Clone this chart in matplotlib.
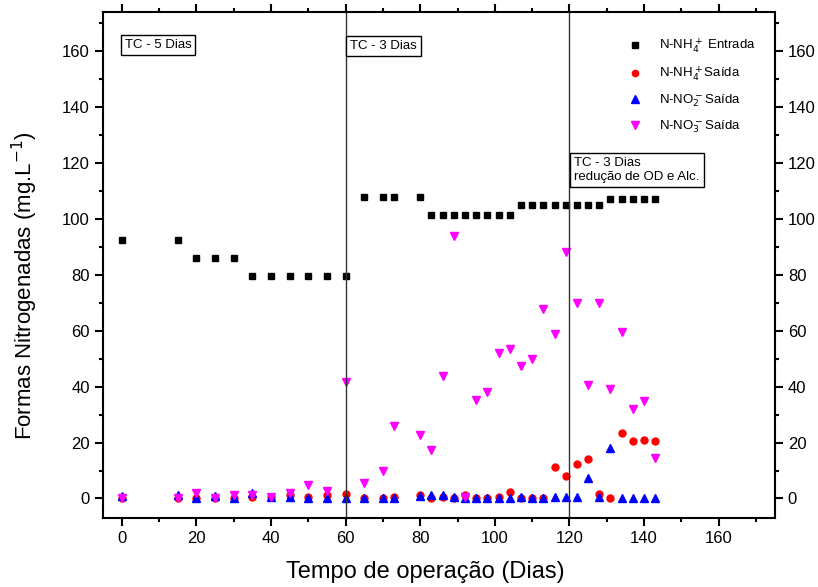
import matplotlib.pyplot as plt
from matplotlib.ticker import MultipleLocator

plt.rcParams["font.family"] = ["Liberation Sans", "DejaVu Sans"]

# operation days (all series sampled on the same days)
days = [0, 15, 20, 25, 30, 35, 40, 45, 50, 55, 60, 65, 70, 73, 80, 83, 86, 89,
        92, 95, 98, 101, 104, 107, 110, 113, 116, 119, 122, 125, 128, 131,
        134, 137, 140, 143]

nh4_in = [92.5, 92.5, 86, 86, 86, 79.5, 79.5, 79.5, 79.5, 79.5, 79.5, 108,
          108, 108, 108, 101.5, 101.5, 101.5, 101.5, 101.5, 101.5, 101.5,
          101.5, 105, 105, 105, 105, 105, 105, 105, 105, 107.2, 107.2, 107.2,
          107.2, 107.2]

nh4_out = [0, 0, 0, 0, 0, 0.7, 0.4, 1.4, 0.5, 1.1, 1.5, 0.2, 0, 0.7, 1.2, 0,
           0.5, 0, 1.4, 0.2, 0.2, 0.5, 2.3, 0.2, 0.2, 0.2, 11.2, 7.9, 12.4,
           14.2, 1.7, 0.1, 23.4, 20.5, 20.9, 20.4]

no2_out = [1.0, 1.4, 0.3, 0.8, 0.2, 1.9, 0.7, 0.6, 0, 0, 0, 0, 0.2, 0.3, 0.9,
           1.4, 1.1, 0.7, 0.3, 0, 0, 0, 0, 0.7, 0.1, 0.2, 0.5, 0.7, 0.5, 7.3,
           0.7, 18, 0, 0, 0, 0]

no3_out = [0, 0, 2.1, 0, 1.2, 1.2, 0.4, 2.1, 4.8, 2.6, 41.6, 5.7, 10, 25.8,
           22.7, 17.4, 43.8, 94, 0.7, 35.1, 38.1, 52.1, 53.5, 47.3, 50, 67.6,
           58.8, 88.3, 70, 40.7, 69.8, 39.3, 59.5, 31.9, 35, 14.3]

fig = plt.figure(figsize=(8.18, 5.87), dpi=100)
ax = fig.add_axes([0.126, 0.1175, 0.821, 0.862])

ax.plot(days, nh4_in, "s", color="black", markersize=5, linestyle="none",
        label="N-NH$_4^+$ Entrada")
ax.plot(days, nh4_out, "o", color="red", markersize=5, linestyle="none",
        label="N-NH$_4^+$Saída")
ax.plot(days, no2_out, "^", color="blue", markersize=6, linestyle="none",
        label="N-NO$_2^-$Saída")
ax.plot(days, no3_out, "v", color="magenta", markersize=6, linestyle="none",
        label="N-NO$_3^-$Saída")

ax.axvline(60, color="#333333", linewidth=1)
ax.axvline(120, color="#333333", linewidth=1)

ax.set_xlim(-5, 175)
ax.set_ylim(-7, 174)
ax.xaxis.set_major_locator(MultipleLocator(20))
ax.xaxis.set_minor_locator(MultipleLocator(10))
ax.yaxis.set_major_locator(MultipleLocator(20))
ax.yaxis.set_minor_locator(MultipleLocator(10))
ax.tick_params(which="both", direction="out", width=1.5, top=True, right=True,
               labelright=True, labelsize=12)
ax.tick_params(which="major", length=6)
ax.tick_params(which="minor", length=3)
ax.tick_params(axis="x", which="both", top=True, labeltop=False)
for s in ax.spines.values():
    s.set_linewidth(1.5)

ax.set_xlabel("Tempo de operação (Dias)", fontsize=17)
ax.set_ylabel("Formas Nitrogenadas (mg.L$^{-1}$)", fontsize=16)
ax.xaxis.set_label_coords(0.48, -0.085)
ax.yaxis.set_label_coords(-0.094, 0.46)

box = dict(boxstyle="square,pad=0.3", facecolor="white", edgecolor="black",
           linewidth=1)
ax.text(0.8, 162.3, "TC - 5 Dias", fontsize=9.5, va="center", ha="left",
        bbox=box)
ax.text(61.3, 161.8, "TC - 3 Dias", fontsize=9.5, va="center", ha="left",
        bbox=box)
ax.text(121.3, 117.5, "TC - 3 Dias\nredução de OD e Alc.", fontsize=9.5,
        va="center", ha="left", bbox=box, linespacing=1.3)

ax.legend(loc="upper right", bbox_to_anchor=(0.99, 0.975), frameon=False,
          fontsize=9.5, handletextpad=0.8, labelspacing=0.7, markerscale=0.9)

fig.savefig("out.png", dpi=100)
